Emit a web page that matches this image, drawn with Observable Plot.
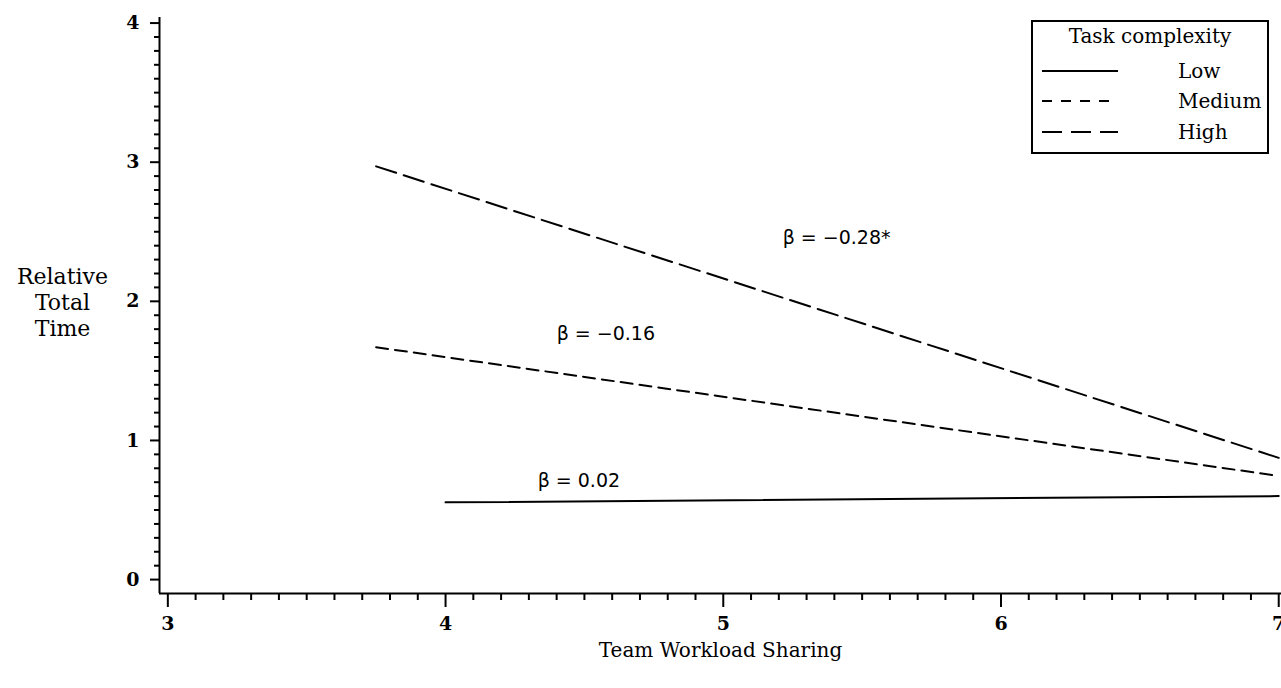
<!DOCTYPE html>
<html>
<head>
<meta charset="utf-8">
<script src="https://cdn.jsdelivr.net/npm/d3@7"></script>
<script src="https://cdn.jsdelivr.net/npm/@observablehq/plot@0.6"></script>
<style>
  html, body { margin: 0; padding: 0; background: #fff; }
  #wrap { position: relative; width: 1281px; height: 688px; overflow: hidden; }
  #legend { position: absolute; left: 1031px; top: 20px; }
</style>
</head>
<body>
<div id="wrap"></div>
<script>
// ---- data ----
const xTicks = [3, 4, 5, 6, 7];
const yTicks = [0, 1, 2, 3, 4];
const levels = ["Low", "Medium", "High"];
const legendTitle = "Task complexity";
const lowX = [4, 7], lowY = [0.555, 0.6];
const mediumX = [3.75, 7], mediumY = [1.67, 0.745];
const highX = [3.75, 7], highY = [2.97, 0.875];
const betaText = ["β = 0.02", "β = −0.16", "β = −0.28*"];
const betaX = [4.48, 4.577, 5.408];
const betaY = [0.712, 1.768, 2.459];
const xTitle = "Team Workload Sharing";
const yTitle = "Relative\nTotal\nTime";

// ---- derived tables ----
const rows = [
  ...lowX.map((x, i) => ({level: "Low", x, y: lowY[i]})),
  ...mediumX.map((x, i) => ({level: "Medium", x, y: mediumY[i]})),
  ...highX.map((x, i) => ({level: "High", x, y: highY[i]}))
];
const betas = betaText.map((t, i) => ({t, x: betaX[i], y: betaY[i]}));
const xMinor = d3.range(31, 70).filter(v => v % 10).map(v => v / 10);
const yMinor = d3.range(1, 40).filter(v => v % 10).map(v => v / 10);
const dash = {Low: null, Medium: "12,7", High: "21,8"};
const legendDash = {Low: null, Medium: "10,9", High: "20,9"};

const serif = "DejaVu Serif";
const sans = "DejaVu Sans";
const fmt = d3.format("d");

const chart = Plot.plot({
  width: 1281,
  height: 688,
  marginLeft: 159,
  marginRight: 0,
  marginTop: 17,
  marginBottom: 95,
  style: {fontFamily: serif, fontSize: "18px", background: "white", color: "black"},
  x: {domain: [2.97, 7.01]},
  y: {domain: [-0.1, 4.04]},
  marks: [
    Plot.axisX({ticks: xTicks, tickFormat: fmt, tickSize: 14, tickPadding: 9, strokeWidth: 2, fontSize: 19, fontWeight: 600, label: null}),
    Plot.axisX({ticks: xMinor, tickSize: 7, strokeWidth: 2, fill: "none", label: null}),
    Plot.axisY({ticks: yTicks, tickFormat: fmt, tickSize: 9, tickPadding: 11, strokeWidth: 2, fontSize: 19, fontWeight: 600, label: null}),
    Plot.axisY({ticks: yMinor, tickSize: 5, strokeWidth: 2, fill: "none", label: null}),
    Plot.ruleX([2.97], {strokeWidth: 2}),
    Plot.ruleY([-0.1], {strokeWidth: 2}),
    ...levels.map(l => Plot.line(rows.filter(d => d.level === l), {
      x: "x", y: "y", stroke: "black", strokeWidth: 2,
      strokeDasharray: dash[l]
    })),
    Plot.text(betas, {x: "x", y: "y", text: "t", fontFamily: sans, fontSize: 19, fill: "black"}),
    Plot.text([xTitle], {text: d => d, frameAnchor: "bottom", dy: 63, fontSize: 20, fill: "black"}),
    Plot.text([yTitle], {text: d => d, frameAnchor: "left", dx: -97, dy: -4, lineHeight: 1.2, textAnchor: "middle", fontSize: 22, fill: "black"})
  ]
});
document.getElementById("wrap").appendChild(chart);

// ---- legend (HTML overlay) ----
const W = 238, H = 134;
const lg = d3.create("svg").attr("id", "legend").attr("width", W).attr("height", H)
  .style("font-family", serif).style("font-size", "20px");
lg.append("rect").attr("x", 1).attr("y", 1).attr("width", W - 2).attr("height", H - 2)
  .attr("fill", "white").attr("stroke", "black").attr("stroke-width", 2);
lg.append("text").attr("x", W / 2).attr("y", 23).attr("text-anchor", "middle").text(legendTitle);
const rowY = [51, 81, 112];
levels.forEach((l, i) => {
  lg.append("line").attr("x1", 11).attr("x2", 87).attr("y1", rowY[i]).attr("y2", rowY[i])
    .attr("stroke", "black").attr("stroke-width", 2)
    .attr("stroke-dasharray", legendDash[l]);
  lg.append("text").attr("x", 147).attr("y", rowY[i] + 7).text(l);
});
document.getElementById("wrap").appendChild(lg.node());
</script>
</body>
</html>
